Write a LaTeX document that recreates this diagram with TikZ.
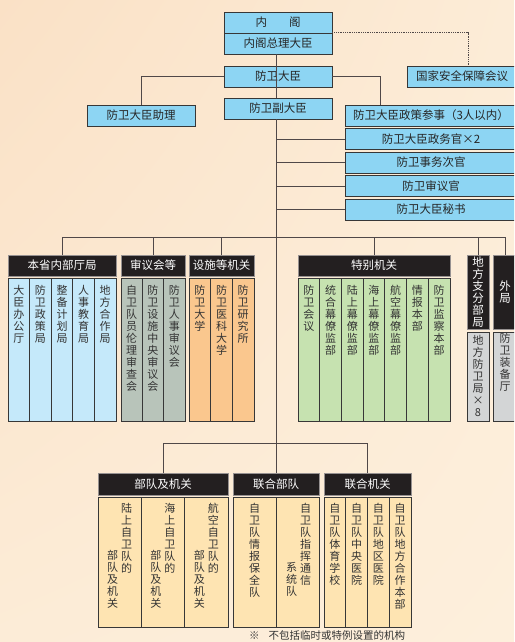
\documentclass[tikz,border=0pt]{standalone}
\usepackage{fontspec}
\setmainfont{Noto Sans CJK SC}
\usetikzlibrary{positioning,shadings}

\definecolor{fondo}{RGB}{252,236,215}
\definecolor{fondoA}{RGB}{250,225,198}
\definecolor{fondoB}{RGB}{253,239,220}
\definecolor{cielo}{RGB}{141,213,243}
\definecolor{oscuro}{RGB}{35,31,32}
\definecolor{azulc}{RGB}{197,233,250}
\definecolor{grisv}{RGB}{184,196,186}
\definecolor{naranja}{RGB}{250,199,142}
\definecolor{verde}{RGB}{198,226,176}
\definecolor{grisc}{RGB}{211,213,214}
\definecolor{crema}{RGB}{254,228,178}
\definecolor{borde}{RGB}{55,55,55}
\definecolor{linea}{RGB}{80,72,72}

% texto vertical, un caracter por linea
\makeatletter
\newcommand\vtxt[1]{\edef\vtxt@arg{#1}\vbox{\baselineskip=12pt\lineskiplimit=-10pt\lineskip=0pt\expandafter\vtxt@go\vtxt@arg\@nil}}
\def\vtxt@go#1{\ifx#1\@nil\else\hbox to 11pt{\hss#1\hss}\expandafter\vtxt@go\fi}
\makeatother

\tikzstyle{topbox} = [rectangle, draw=borde, fill=cielo, line width=0.8pt, minimum height=21, inner sep=0, text=black!85, font=\fontsize{11.5}{12}\selectfont]
\tikzstyle{hdr} = [rectangle, draw=linea!60, fill=oscuro, line width=0.6pt, minimum height=21, inner sep=0, text=white, font=\fontsize{11.5}{12}\selectfont]
\tikzstyle{cell} = [rectangle, draw=borde, line width=0.7pt, inner sep=0]
\tikzstyle{vt} = [anchor=north, inner sep=0, text=black!80, font=\fontsize{11}{12}\selectfont]
\tikzstyle{conn} = [draw=linea, line width=0.8pt]

\begin{document}
\begin{tikzpicture}[x=1pt, y=-1pt]
		\useasboundingbox (0,0) rectangle (514,642);
		\clip (0,0) rectangle (514,642);
		\shade[upper left=fondoA, upper right=fondo, lower left=fondo, lower right=fondoB] (0,0) rectangle (514,642);
		\coordinate (tk) at (276,0);
		\coordinate (bus1) at (0,237);
		\coordinate (bus2) at (0,443);
		% Cajas superiores
		\node[topbox, minimum width=108] (gab) at (278,22.5) {内\hspace{22pt}阁};
		\node[topbox, minimum width=108] (prim) at (278,43.5) {内阁总理大臣};
		\node[topbox, minimum width=108] (mins) at (278,76.5) {防卫大臣};
		\node[topbox, minimum width=108] (vice) at (278,108.5) {防卫副大臣};
		\node[topbox, minimum width=108] (ayud) at (141,115.5) {防卫大臣助理};
		\node[topbox, minimum width=110] (segn) at (462,76.5) {国家安全保障会议};
		\node[topbox, minimum width=172] (pol) at (431,115.5) {防卫大臣政策参事（3人以内）};
		\node[topbox, minimum width=172] (parl) at (431,139) {防卫大臣政务官×2};
		\node[topbox, minimum width=172] (jimu) at (431,162.5) {防卫事务次官};
		\node[topbox, minimum width=172] (shin) at (431,186) {防卫审议官};
		\node[topbox, minimum width=172] (hisho) at (431,209.5) {防卫大臣秘书};
		% Lineas superiores
		\draw[conn, densely dotted] (prim.north east) -| ([xshift=6]segn.north);
		\draw[conn] (prim.south -| tk) -- (mins.south -| tk);
		\draw[conn] (mins.south -| tk) -- (vice.north -| tk);
		\draw[conn] (mins.west) -| (ayud.north);
		\draw[conn] (mins.east) -| ([xshift=-51]pol.north);
		\foreach \n in {parl,jimu,shin,hisho}
			\draw[conn] (\n.west -| tk) -- (\n.west);
		% Cabeceras del medio
		\node[hdr, minimum width=108] (bs) at (62,265.5) {本省内部厅局};
		\node[hdr, minimum width=64] (sg) at (153,265.5) {审议会等};
		\node[hdr, minimum width=65] (sh) at (221.5,265.5) {设施等机关};
		\node[hdr, minimum width=152] (tb) at (374,265.5) {特别机关};
		\node[hdr, minimum width=22, minimum height=74] (cb) at (478,292) {\vtxt{地方支分部局}};
		\node[hdr, minimum width=24, minimum height=74] (ext) at (505,292) {\vtxt{外局}};
		% Columnas
		\foreach \t [count=\i] in {大臣办公厅,防卫政策局,整备计划局,人事教育局,地方合作局}{
			\node[cell, fill=azulc, minimum width=21.6, minimum height=143] (bs\i) at ({8+21.6*(\i-0.5)},349.5) {};
			\node[vt] (bst\i) at ([yshift=-7]bs\i.north) {\vtxt{\t}};
		}
		\foreach \t [count=\i] in {自卫队员伦理审查会,防卫设施中央审议会,防卫人事审议会}{
			\node[cell, fill=grisv, minimum width=21.33, minimum height=143] (sg\i) at ({121+21.33*(\i-0.5)},349.5) {};
			\node[vt] (sgt\i) at ([yshift=-7]sg\i.north) {\vtxt{\t}};
		}
		\foreach \t [count=\i] in {防卫大学,防卫医科大学,防卫研究所}{
			\node[cell, fill=naranja, minimum width=21.67, minimum height=143] (sh\i) at ({189+21.67*(\i-0.5)},349.5) {};
			\node[vt] (sht\i) at ([yshift=-7]sh\i.north) {\vtxt{\t}};
		}
		\foreach \t [count=\i] in {防卫会议,统合幕僚监部,陆上幕僚监部,海上幕僚监部,航空幕僚监部,情报本部,防卫监察本部}{
			\node[cell, fill=verde, minimum width=21.71, minimum height=143] (tb\i) at ({298+21.71*(\i-0.5)},349.5) {};
			\node[vt] (tbt\i) at ([yshift=-7]tb\i.north) {\vtxt{\t}};
		}
		\node[cell, fill=grisc, minimum width=22, minimum height=89] (cb1) at (478,376.5) {};
		\node[vt] (cbt1) at ([yshift=-3]cb1.north) {\vtxt{地方防卫局×8}};
		\node[cell, fill=grisc, minimum width=24, minimum height=89] (ext1) at (505,376.5) {};
		\node[vt] (extt1) at ([yshift=-1]ext1.north) {\vtxt{防卫装备厅}};
		% Cabeceras de abajo
		\node[hdr, minimum width=130, minimum height=22] (bt) at (163,484) {部队及机关};
		\node[hdr, minimum width=86, minimum height=22] (jb) at (276,484) {联合部队};
		\node[hdr, minimum width=87, minimum height=22] (lj) at (367.5,484) {联合机关};
		\foreach \a/\b [count=\i] in {陆上自卫队的/部队及机关,海上自卫队的/部队及机关,航空自卫队的/部队及机关}{
			\node[cell, fill=crema, minimum width=43.33, minimum height=130] (bt\i) at ({98+43.33*(\i-0.5)},562) {};
			\node[vt] (bta\i) at ([xshift=7,yshift=-6]bt\i.north) {\vtxt{\a}};
			\node[vt] (btb\i) at ([xshift=-7,yshift=-53]bt\i.north) {\vtxt{\b}};
		}
		\node[cell, fill=crema, minimum width=43, minimum height=130] (jb1) at (254.5,562) {};
		\node[cell, fill=crema, minimum width=43, minimum height=130] (jb2) at (297.5,562) {};
		\node[vt] (jbt1) at ([yshift=-6]jb1.north) {\vtxt{自卫队情报保全队}};
		\node[vt] (jbt2) at ([xshift=8,yshift=-6]jb2.north) {\vtxt{自卫队指挥通信}};
		\node[vt] (jbt3) at ([xshift=-6,yshift=-65]jb2.north) {\vtxt{系统队}};
		\foreach \t [count=\i] in {自卫队体育学校,自卫队中央医院,自卫队地区医院,自卫队地方合作本部}{
			\node[cell, fill=crema, minimum width=21.75, minimum height=130] (lj\i) at ({324+21.75*(\i-0.5)},562) {};
			\node[vt] (ljt\i) at ([yshift=-6]lj\i.north) {\vtxt{\t}};
		}
		% Buses
		\draw[conn] (vice.south -| tk) -- (jb.north);
		\draw[conn] (bs.north |- bus1) -- (ext.north |- bus1);
		\foreach \n in {bs,sg,sh,tb,cb,ext}
			\draw[conn] (\n.north |- bus1) -- (\n.north);
		\draw[conn] (bt.north |- bus2) -- (lj.north |- bus2);
		\draw[conn] (bt.north |- bus2) -- (bt.north);
		\draw[conn] (lj.north |- bus2) -- (lj.north);
		% Nota
		\node[anchor=west, inner sep=0, text=black!80, font=\fontsize{10.5}{12}\selectfont] (nota) at (249,635) {※\hspace{9pt}不包括临时或特例设置的机构};
	\end{tikzpicture}
\end{document}
